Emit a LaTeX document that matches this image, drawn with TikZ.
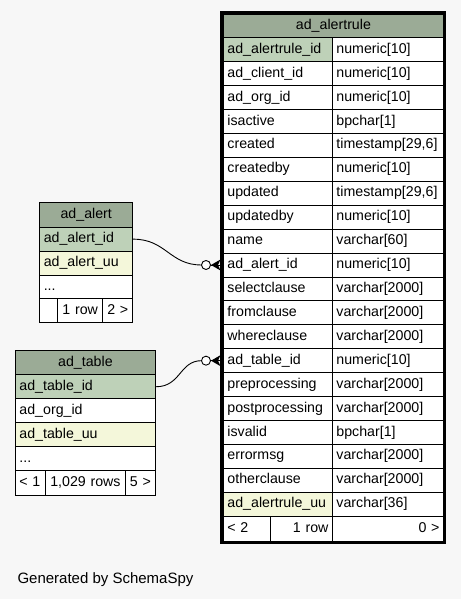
\documentclass[tikz,border=0pt]{standalone}
\usepackage{fontspec}
\setmainfont{Liberation Sans}
\usetikzlibrary{calc}
\definecolor{hdr}{HTML}{9BAB96}
\definecolor{pkc}{HTML}{BED1B8}
\definecolor{idxc}{HTML}{F4F7DA}
\definecolor{bgc}{HTML}{F7F7F7}
\tikzset{
  tf/.style={font=\fontsize{14.2}{16}\selectfont},
  cell/.style={draw=black, line width=0.9pt, fill=white, inner xsep=4pt, inner ysep=0pt,
    anchor=north west, tf, text height=10.2pt, text depth=3pt, align=left},
  pk/.style={fill=pkc}, idx/.style={fill=idxc}, wt/.style={fill=white},
  hd/.style={fill=hdr, align=center},
  conn/.style={line width=0.9pt, draw=black},
  odot/.style={line width=0.9pt, draw=black, fill=white},
}
\begin{document}
\begin{tikzpicture}[x=1pt,y=-1pt]
\useasboundingbox[fill=bgc] (0,0) rectangle (461,599);

% ---------- ad_alertrule ----------
\node[cell,hd,text width=212pt,minimum height=23.3pt] (rh) at (223,14) {ad\_alertrule};
\foreach [count=\i] \n/\t/\f in {
  ad\_alertrule\_id/numeric[10]/pk,
  ad\_client\_id/numeric[10]/wt,
  ad\_org\_id/numeric[10]/wt,
  isactive/bpchar[1]/wt,
  created/{timestamp[29,6]}/wt,
  createdby/numeric[10]/wt,
  updated/{timestamp[29,6]}/wt,
  updatedby/numeric[10]/wt,
  name/varchar[60]/wt,
  ad\_alert\_id/numeric[10]/wt,
  selectclause/varchar[2000]/wt,
  fromclause/varchar[2000]/wt,
  whereclause/varchar[2000]/wt,
  ad\_table\_id/numeric[10]/wt,
  preprocessing/varchar[2000]/wt,
  postprocessing/varchar[2000]/wt,
  isvalid/bpchar[1]/wt,
  errormsg/varchar[2000]/wt,
  otherclause/varchar[2000]/wt,
  ad\_alertrule\_uu/varchar[36]/idx}
{
  \node[cell,\f,text width=101pt,minimum height=23.92pt] (r\i n) at (223,{37.3+23.92*(\i-1)}) {\n};
  \node[cell,text width=103pt,minimum height=23.92pt] (r\i t) at (332,{37.3+23.92*(\i-1)}) {\t};
}
\node[cell,text width=39pt,minimum height=25.3pt] (rf1) at (223,515.7) {< 2};
\node[cell,text width=54pt,minimum height=25.3pt,align=right] (rf2) at (270,515.7) {1 row};
\node[cell,text width=103pt,minimum height=25.3pt,align=right] (rf3) at (332,515.7) {0 >};
\draw[line width=3pt] (221.5,12.3) rectangle (444.7,542.5);

% ---------- ad_alert ----------
\node[cell,hd,text width=85pt,minimum height=24.4pt] (ah) at (39.3,202.3) {ad\_alert};
\node[cell,pk,text width=85pt,minimum height=24pt] (aid) at (39.3,226.7) {ad\_alert\_id};
\node[cell,idx,text width=85pt,minimum height=23.8pt] (auu) at (39.3,250.7) {ad\_alert\_uu};
\node[cell,text width=85pt,minimum height=23.8pt] (adots) at (39.3,274.5) {...};
\node[cell,text width=10pt,minimum height=24pt] (af1) at (39.3,298.3) {};
\node[cell,text width=37pt,minimum height=24pt,align=center] (af2) at (57.3,298.3) {1 row};
\node[cell,text width=22pt,minimum height=24pt,align=center] (af3) at (102.3,298.3) {2 >};

% ---------- ad_table ----------
\node[cell,hd,text width=132pt,minimum height=24.3pt] (th) at (15,350) {ad\_table};
\node[cell,pk,text width=132pt,minimum height=24pt] (tid) at (15,374.3) {ad\_table\_id};
\node[cell,text width=132pt,minimum height=24pt] (torg) at (15,398.3) {ad\_org\_id};
\node[cell,idx,text width=132pt,minimum height=24pt] (tuu) at (15,422.3) {ad\_table\_uu};
\node[cell,text width=132pt,minimum height=24pt] (tdots) at (15,446.3) {...};
\node[cell,text width=22pt,minimum height=24.7pt] (tf1) at (15,470.3) {< 1};
\node[cell,text width=72pt,minimum height=24.7pt,align=center] (tf2) at (45,470.3) {1,029 rows};
\node[cell,text width=22pt,minimum height=24.7pt,align=center] (tf3) at (125,470.3) {5 >};

% ---------- connectors ----------
\coordinate (e1) at ($(r10n.west)+(-21.5,0)$);
\coordinate (c1) at ($(r10n.west)+(-17,0)$);
\draw[conn] (aid.east) .. controls +(33,0) and +(-32,0) .. (e1);
\draw[conn] ($(r10n.west)+(-12.5,0)$) -- ($(r10n.west)+(-2.5,0)$);
\fill ($(r10n.west)+(-12,0)$) -- ($(r10n.west)+(-2.5,-5.5)$) -- ($(r10n.west)+(-5,0)$) -- ($(r10n.west)+(-2.5,5.5)$) -- cycle;
\draw[odot] (c1) circle[radius=4.5];

\coordinate (e2) at ($(r14n.west)+(-21.5,0)$);
\coordinate (c2) at ($(r14n.west)+(-17,0)$);
\draw[conn] (tid.east) .. controls +(25,0) and +(-22,0) .. (e2);
\draw[conn] ($(r14n.west)+(-12.5,0)$) -- ($(r14n.west)+(-2.5,0)$);
\fill ($(r14n.west)+(-12,0)$) -- ($(r14n.west)+(-2.5,-5.5)$) -- ($(r14n.west)+(-5,0)$) -- ($(r14n.west)+(-2.5,5.5)$) -- cycle;
\draw[odot] (c2) circle[radius=4.5];

\node[anchor=base west, inner sep=0pt, font=\fontsize{15}{17}\selectfont] (gen) at (17.3,583) {Generated by SchemaSpy};
\end{tikzpicture}
\end{document}
